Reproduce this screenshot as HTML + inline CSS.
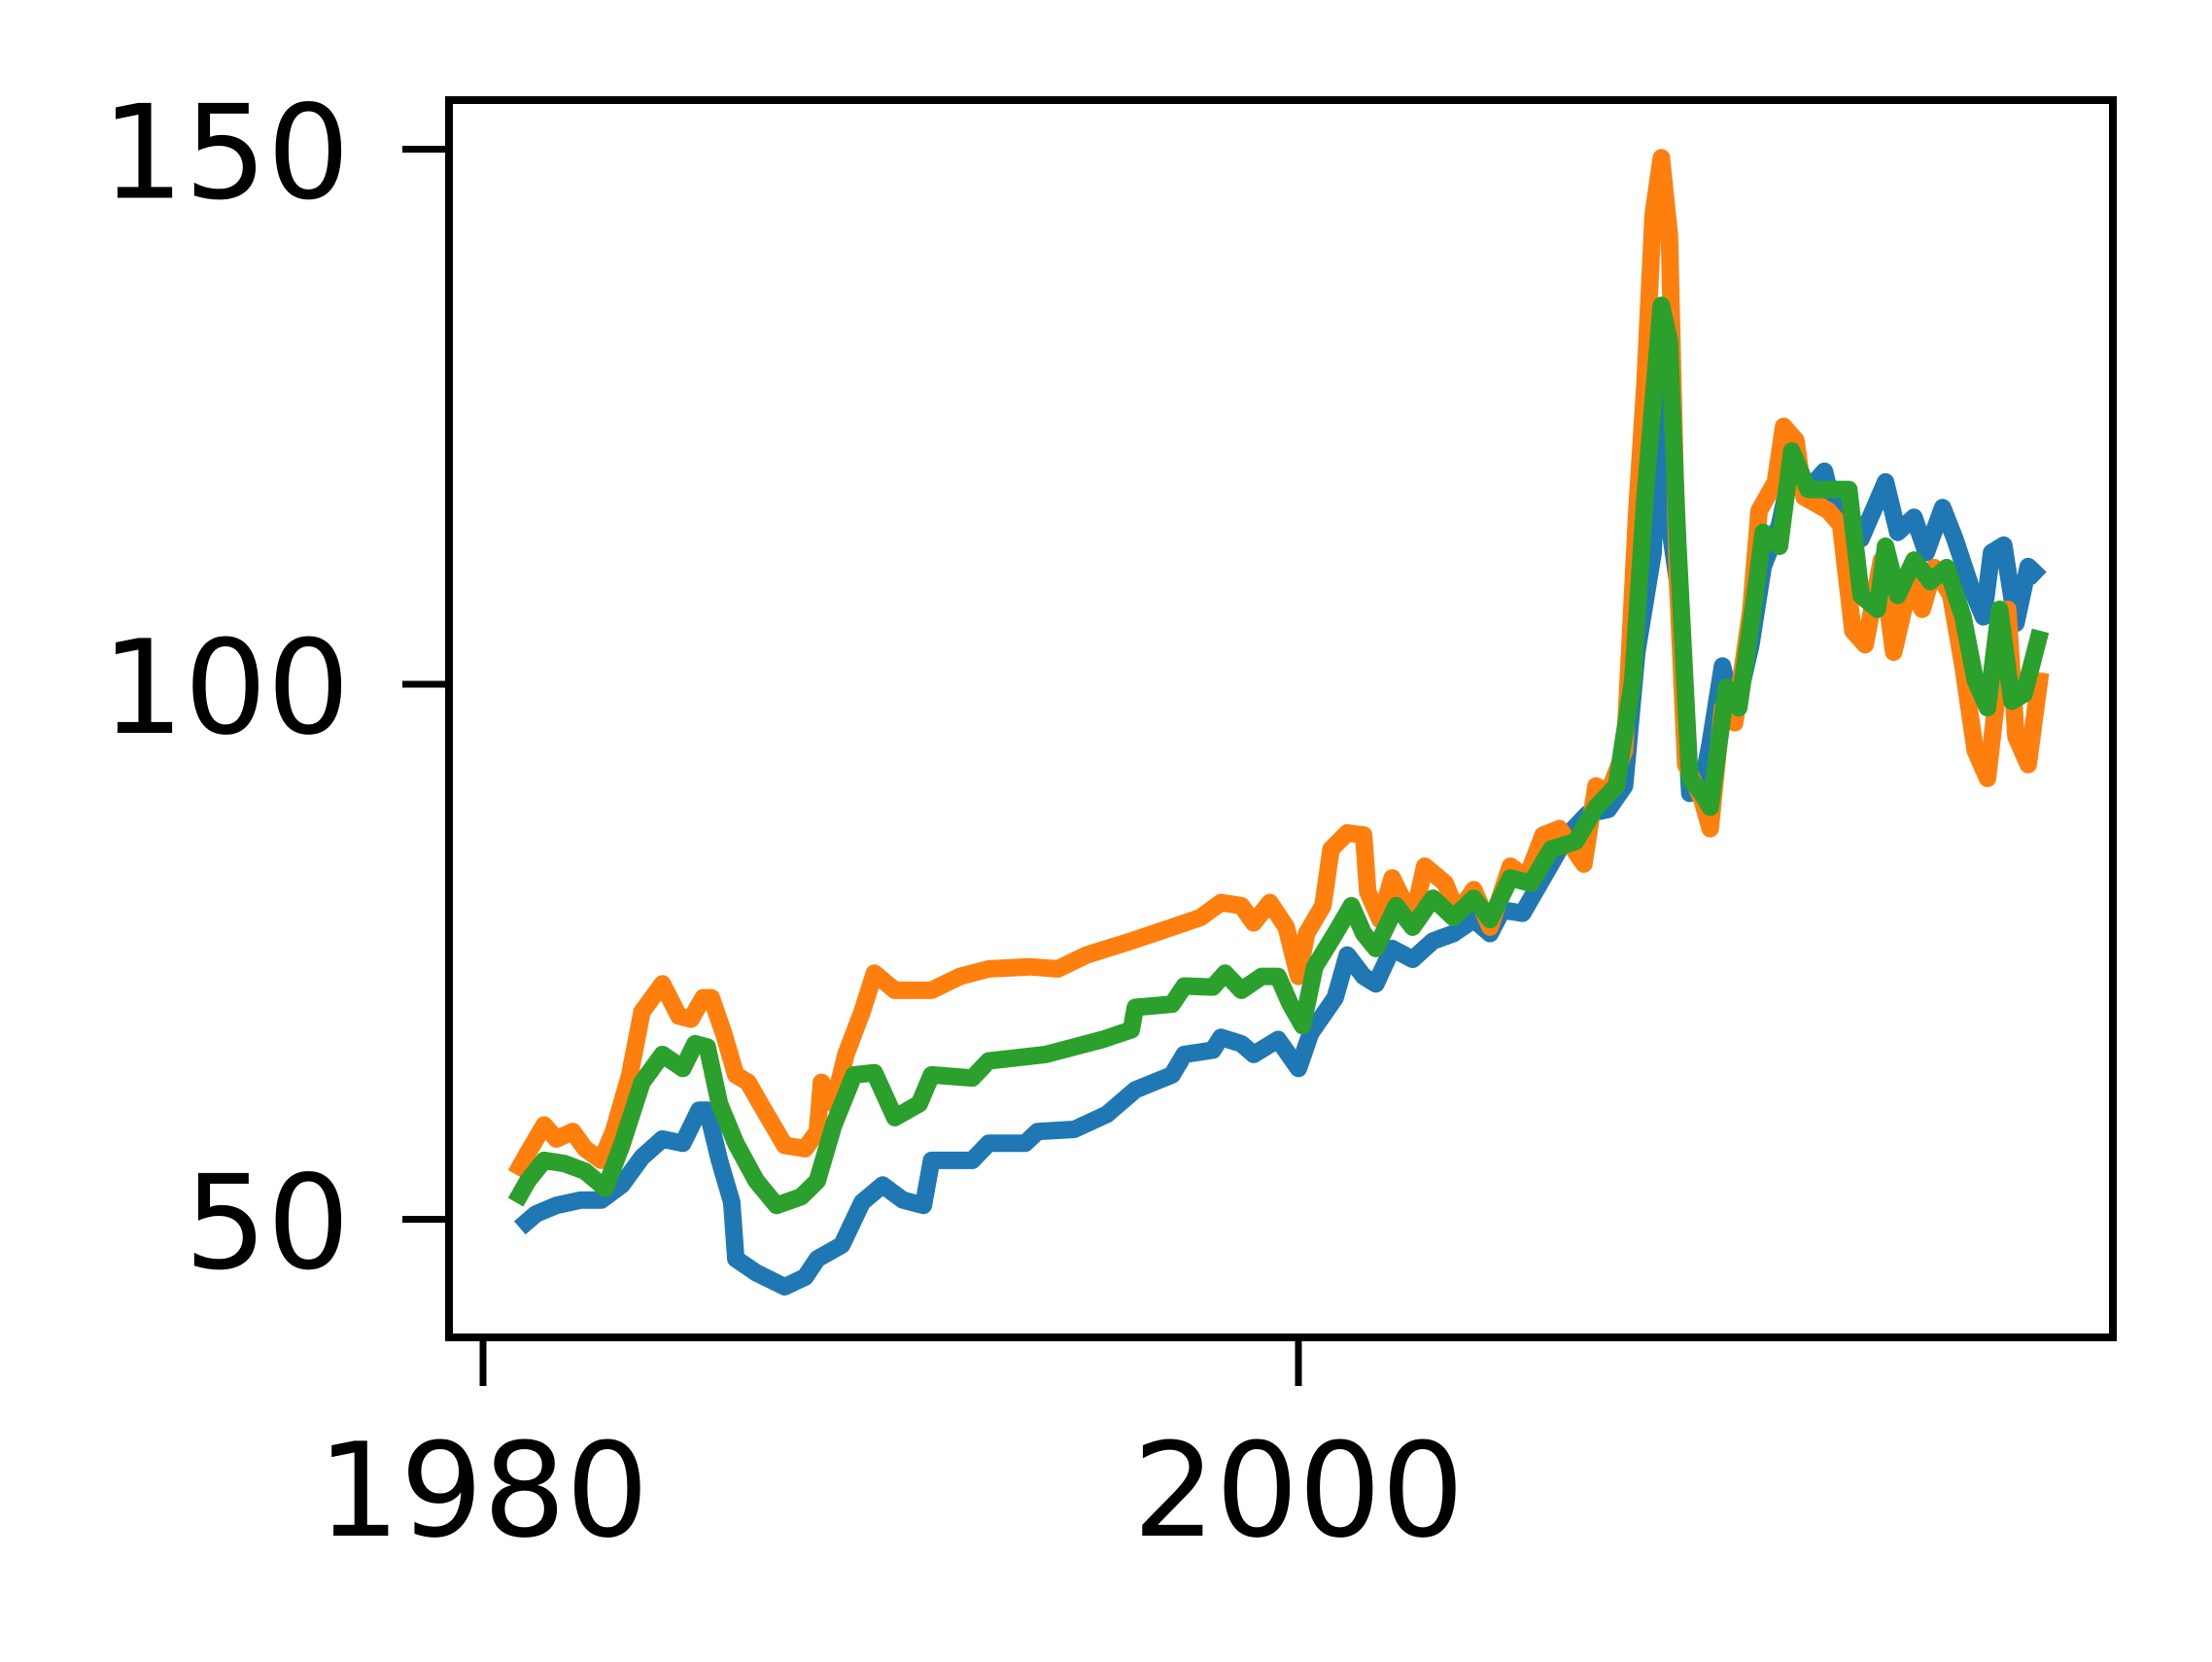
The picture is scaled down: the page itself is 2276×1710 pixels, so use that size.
<!DOCTYPE html>
<html><head><meta charset="utf-8"><style>
html,body{margin:0;padding:0;background:#fff;}
svg{display:block;}
text{font-family:"DejaVu Sans","Liberation Sans",sans-serif;fill:#000;}
</style></head>
<body>
<svg id="chart" width="2276" height="1710" viewBox="0 0 2276 1710" xmlns="http://www.w3.org/2000/svg">
<rect x="0" y="0" width="2276" height="1710" fill="#fff"/>
<g id="series"></g>
<rect x="462" y="103" width="1712" height="1273" fill="none" stroke="#000" stroke-width="8"/>
<g id="axes"></g>
</svg>
<script>
const xTicks = [1980, 2000];
const yTicks = [50, 100, 150];
const blueYears = [1980.9,1981.3,1981.8,1982.4,1982.9,1983.4,1983.9,1984.4,1984.9,1985.3,1985.5,1985.8,1986.1,1986.2,1986.7,1987.4,1987.9,1988.2,1988.8,1989.3,1989.8,1990.3,1990.8,1991.0,1992.0,1992.4,1993.3,1993.6,1994.5,1995.3,1996.0,1996.9,1997.2,1997.9,1998.1,1998.6,1998.9,1999.5,2000.0,2000.3,2000.9,2001.2,2001.6,2001.9,2002.3,2002.8,2003.3,2003.8,2004.3,2004.7,2005.0,2005.5,2006.0,2006.6,2007.1,2007.6,2008.0,2008.3,2008.7,2008.9,2009.1,2009.3,2009.6,2009.9,2010.1,2010.4,2010.7,2011.1,2011.4,2011.8,2012.1,2012.5,2012.9,2013.1,2013.5,2013.8,2014.4,2014.7,2015.1,2015.4,2015.8,2016.1,2016.5,2016.8,2017.0,2017.3,2017.6,2017.9,2018.2];
const blueValues = [49.2,50.5,51.3,51.8,51.8,53.2,55.8,57.5,57.1,60.2,60.2,55.5,51.6,46.3,45.0,43.7,44.6,46.3,47.6,51.6,53.2,51.8,51.3,55.5,55.5,57.1,57.1,58.2,58.4,59.8,62.1,63.5,65.4,65.8,67.0,66.4,65.4,66.8,64.1,67.4,70.7,74.7,72.7,72.0,75.3,74.3,76.0,76.7,78.0,76.7,78.9,78.6,81.9,85.9,87.9,88.3,90.5,103.0,112.3,134.0,114.9,109.6,89.8,90.5,94.5,101.7,97.1,103.7,111.0,114.9,120.2,118.2,119.9,116.9,116.2,113.6,118.9,114.2,115.6,112.3,116.5,113.6,109.0,106.3,112.3,113.0,105.7,111.0,109.9];
const orangeYears = [1980.8,1981.1,1981.5,1981.8,1982.2,1982.5,1982.9,1983.2,1983.6,1983.9,1984.4,1984.8,1985.1,1985.4,1985.6,1985.9,1986.2,1986.5,1986.8,1987.4,1987.9,1988.2,1988.3,1988.6,1988.9,1989.3,1989.6,1990.1,1991.0,1991.7,1992.4,1993.4,1994.1,1994.8,1995.9,1996.6,1997.6,1998.1,1998.6,1998.9,1999.3,1999.7,2000.0,2000.2,2000.6,2000.8,2001.2,2001.6,2001.7,2002.0,2002.3,2002.8,2003.1,2003.6,2003.9,2004.3,2004.7,2005.2,2005.6,2006.0,2006.4,2007.0,2007.3,2007.6,2008.0,2008.3,2008.5,2008.7,2008.9,2009.1,2009.3,2009.5,2009.9,2010.1,2010.4,2010.7,2011.1,2011.3,2011.7,2011.9,2012.2,2012.4,2013.0,2013.3,2013.6,2013.9,2014.3,2014.6,2015.0,2015.3,2015.6,2016.0,2016.3,2016.6,2016.9,2017.1,2017.4,2017.6,2017.9,2018.2];
const orangeValues = [54.2,56.2,58.8,57.5,58.2,56.6,55.5,58.2,63.5,69.4,72.0,69.0,68.7,70.7,70.7,67.4,63.5,62.8,60.8,56.9,56.6,58.2,62.8,60.8,65.4,69.4,73.0,71.4,71.4,72.7,73.4,73.6,73.4,74.7,76.0,76.9,78.2,79.6,79.3,77.7,79.6,77.3,72.7,76.7,79.3,84.6,86.1,85.9,80.6,78.0,81.9,78.0,83.0,81.4,78.6,80.8,77.3,83.0,81.9,85.9,86.5,83.2,90.5,89.8,93.8,116.2,128.1,143.9,149.2,142.0,109.6,92.5,89.2,86.5,97.8,96.4,107.0,116.2,118.9,124.1,122.8,117.5,116.2,114.9,105.0,103.7,111.6,103.0,109.6,107.0,110.9,108.3,101.7,93.8,91.2,97.8,107.0,95.1,92.5,101.1];
const greenYears = [1980.8,1981.1,1981.5,1982.0,1982.5,1983.0,1983.4,1983.9,1984.4,1984.9,1985.2,1985.5,1985.8,1986.2,1986.7,1987.2,1987.8,1988.2,1988.6,1989.1,1989.6,1990.1,1990.7,1991.0,1992.0,1992.4,1993.8,1994.5,1995.2,1995.9,1996.0,1996.9,1997.2,1997.9,1998.2,1998.6,1999.1,1999.5,1999.8,2000.1,2000.4,2000.9,2001.3,2001.6,2001.9,2002.4,2002.8,2003.3,2003.8,2004.3,2004.7,2005.2,2005.7,2006.2,2006.8,2007.3,2007.8,2008.2,2008.5,2008.9,2009.1,2009.3,2009.6,2009.9,2010.1,2010.5,2010.8,2011.2,2011.4,2011.8,2012.1,2012.5,2013.1,2013.5,2013.8,2014.2,2014.4,2014.7,2015.1,2015.5,2015.9,2016.3,2016.6,2016.9,2017.2,2017.5,2017.8,2018.2];
const greenValues = [51.6,53.6,55.5,55.2,54.5,52.9,56.9,62.8,65.4,64.1,66.4,66.1,60.8,57.1,53.6,51.3,52.1,53.6,58.8,63.5,63.7,59.5,60.8,63.5,63.2,64.8,65.4,66.1,66.8,67.7,69.8,70.1,71.8,71.7,73.0,71.4,72.7,72.7,70.1,68.1,73.6,76.7,79.3,76.7,75.3,79.3,77.3,80.0,78.2,80.0,78.0,81.9,81.4,84.6,85.3,88.5,90.5,100.4,117.5,135.4,132.1,113.6,91.2,89.8,88.5,99.7,97.8,108.3,114.2,112.9,121.8,118.2,118.2,118.2,108.3,107.0,112.9,108.3,111.6,109.6,110.9,106.3,100.4,97.8,107.0,98.4,99.1,105.0];

const NS = "http://www.w3.org/2000/svg";
function xScale(yr){ return 497 + (yr - 1980) * 41.95; }
function yScale(v){ return 704 - (v - 100) * 11.01; }

const seriesG = document.getElementById('series');
function drawSeries(years, values, color, name){
  const p = document.createElementNS(NS, 'path');
  let d = '';
  for (let i = 0; i < years.length; i++) d += (i ? 'L' : 'M') + xScale(years[i]).toFixed(1) + ' ' + yScale(values[i]).toFixed(1);
  p.setAttribute('d', d);
  p.setAttribute('fill', 'none');
  p.setAttribute('stroke', color);
  p.setAttribute('stroke-width', '18');
  p.setAttribute('stroke-linejoin', 'round');
  
  
  seriesG.appendChild(p);
}
drawSeries(blueYears, blueValues, '#1f77b4', 'series-blue-line');
drawSeries(orangeYears, orangeValues, '#ff7f0e', 'series-orange-line');
drawSeries(greenYears, greenValues, '#2ca02c', 'series-green-line');

const axesG = document.getElementById('axes');
yTicks.forEach(v => {
  const y = yScale(v);
  const t = document.createElementNS(NS, 'line');
  t.setAttribute('x1', 414); t.setAttribute('x2', 462);
  t.setAttribute('y1', y); t.setAttribute('y2', y);
  t.setAttribute('stroke', '#000'); t.setAttribute('stroke-width', '7');
  
  
  axesG.appendChild(t);
  const l = document.createElementNS(NS, 'text');
  l.setAttribute('x', 360); l.setAttribute('y', y + 50);
  l.setAttribute('text-anchor', 'end'); l.setAttribute('font-size', '134');
  l.textContent = v;
  
  
  axesG.appendChild(l);
});
xTicks.forEach(v => {
  const x = xScale(v);
  const t = document.createElementNS(NS, 'line');
  t.setAttribute('x1', x); t.setAttribute('x2', x);
  t.setAttribute('y1', 1376); t.setAttribute('y2', 1426);
  t.setAttribute('stroke', '#000'); t.setAttribute('stroke-width', '7');
  
  
  axesG.appendChild(t);
  const l = document.createElementNS(NS, 'text');
  l.setAttribute('x', x); l.setAttribute('y', 1580);
  l.setAttribute('text-anchor', 'middle'); l.setAttribute('font-size', '134');
  l.textContent = v;
  
  
  axesG.appendChild(l);
});
</script>
</body></html>
